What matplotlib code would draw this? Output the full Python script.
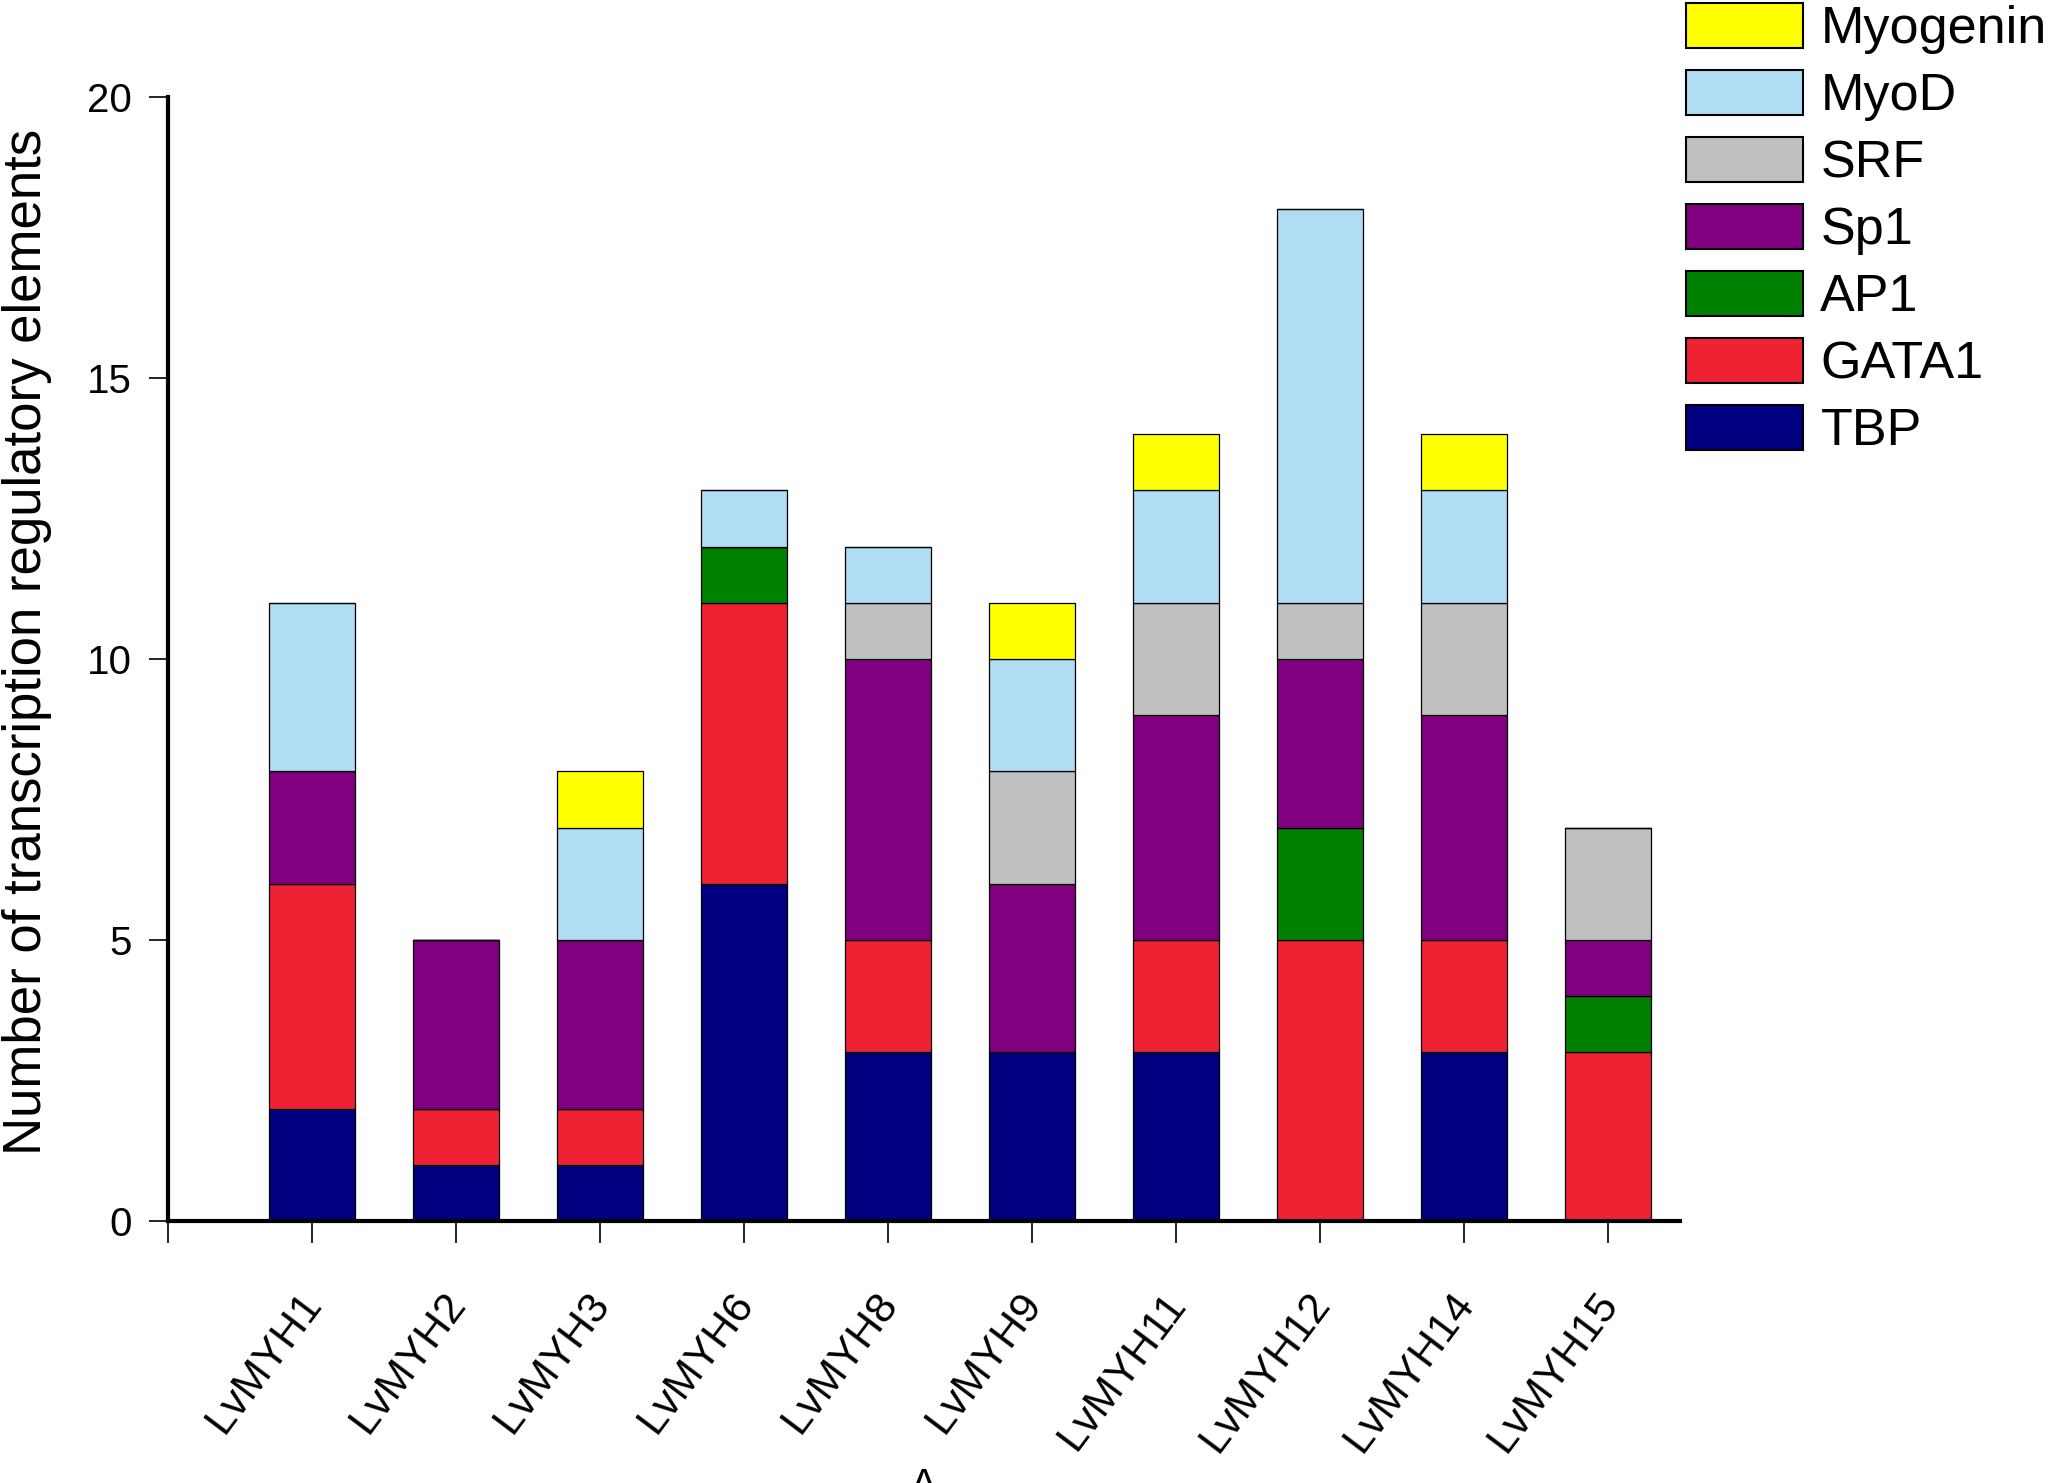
import matplotlib
matplotlib.use("Agg")
import matplotlib.pyplot as plt
import matplotlib.transforms as mtransforms
import numpy as np

plt.rcParams['font.family'] = ['Liberation Sans', 'DejaVu Sans']

genes = ["LvMYH1", "LvMYH2", "LvMYH3", "LvMYH6", "LvMYH8",
         "LvMYH9", "LvMYH11", "LvMYH12", "LvMYH14", "LvMYH15"]

TBP      = [2, 1, 1, 6, 3, 3, 3, 0, 3, 0]
GATA1    = [4, 1, 1, 5, 2, 0, 2, 5, 2, 3]
AP1      = [0, 0, 0, 1, 0, 0, 0, 2, 0, 1]
Sp1      = [2, 3, 3, 0, 5, 3, 4, 3, 4, 1]
SRF      = [0, 0, 0, 0, 1, 2, 2, 1, 2, 2]
MyoD     = [3, 0, 2, 1, 1, 2, 2, 7, 2, 0]
Myogenin = [0, 0, 1, 0, 0, 1, 1, 0, 1, 0]

series_names = ["TBP", "GATA1", "AP1", "Sp1", "SRF", "MyoD", "Myogenin"]
series_vals = [TBP, GATA1, AP1, Sp1, SRF, MyoD, Myogenin]
colors = ["#000080", "#EE2233", "#008000", "#800080", "#C0C0C0", "#B0DCF4", "#FFFF00"]

fig = plt.figure(figsize=(20.54, 14.83), dpi=100)
ax = fig.add_axes([0.0817, 0.1767, 0.818 - 0.0817, 0.9346 - 0.1767])

x = np.arange(1, len(genes) + 1)
bottom = np.zeros(len(genes))
handles = []
for name, vals, c in zip(series_names, series_vals, colors):
    v = np.array(vals, dtype=float)
    h = ax.bar(x, v, width=0.6, bottom=bottom, color=c, edgecolor="black",
               linewidth=0.9, label=name, zorder=2)
    handles.append(h)
    bottom += v

ax.set_xlim(0, 10.5)
ax.set_ylim(0, 20)
ax.set_xticks(np.arange(0, len(genes) + 1))
ax.set_xticklabels([""] + genes, rotation=53, ha="right", va="top",
                   rotation_mode="anchor", fontsize=31)
ax.set_yticks([0, 5, 10, 15, 20])
ax.set_yticklabels(["0", "5", "10", "15", "20"], fontsize=29)

for s in ["top", "right"]:
    ax.spines[s].set_visible(False)
for s in ["left", "bottom"]:
    ax.spines[s].set_linewidth(3)

ax.tick_params(axis="x", direction="out", length=16, width=1.2, pad=30)
ax.tick_params(axis="y", direction="out", length=14, width=1.2, pad=12)

offset = mtransforms.ScaledTranslation(-14 / 100, 0, fig.dpi_scale_trans)
for lab in ax.get_xticklabels():
    lab.set_transform(lab.get_transform() + offset)

ax.set_ylabel("Number of transcription regulatory elements", fontsize=38)
ax.yaxis.set_label_coords(-0.0765, 0.515)

leg = fig.legend(handles[::-1], series_names[::-1], loc="upper left",
                 bbox_to_anchor=(1686 / 2054, 1 - 3 / 1483), frameon=False,
                 fontsize=37.5, handlelength=2.25, handleheight=0.95,
                 labelspacing=0.3, handletextpad=0.33, borderpad=0,
                 borderaxespad=0)
for p in leg.get_patches():
    p.set_linewidth(1.5)

fig.text(924 / 2054, -4 / 1483, "A", fontsize=30, ha="center", va="center")

fig.savefig("out.png", dpi=100)
